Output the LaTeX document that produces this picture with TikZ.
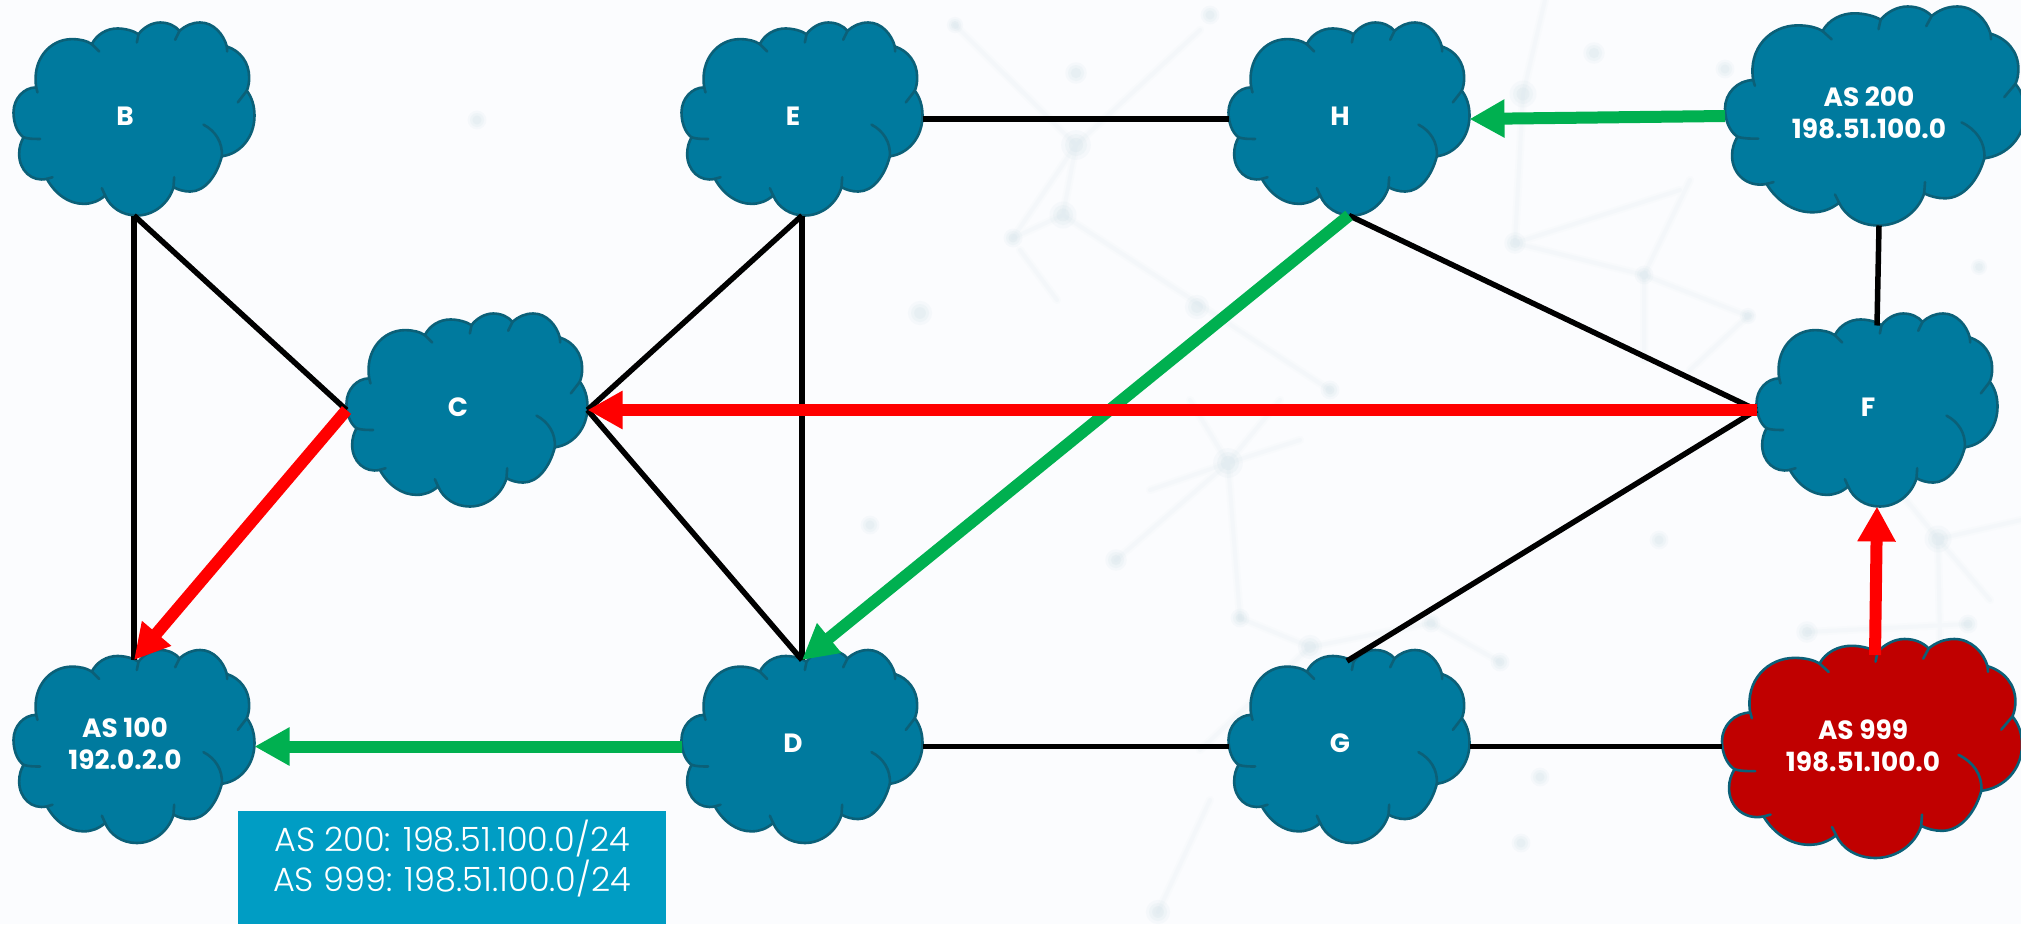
\documentclass[tikz,border=0pt]{standalone}
\usepackage{fontspec}
\setmainfont{Poppins}
\newfontfamily\lightfont{Poppins Light}
\usetikzlibrary{arrows.meta}
\definecolor{bgc}{HTML}{FBFCFE}
\definecolor{netc}{HTML}{C9DCE4}
\definecolor{cloudblue}{HTML}{007A9E}
\definecolor{cloudedge}{HTML}{0B6078}
\definecolor{cloudred}{HTML}{C00000}
\definecolor{boxblue}{HTML}{009DC4}
\definecolor{arrgreen}{HTML}{00B050}
\definecolor{arrred}{HTML}{FF0000}
\tikzset{
  x=1pt,y=-1pt,
  cloudedgeline/.style={draw=cloudedge,line width=2.6pt,line join=round},
  cloudlabel/.style={text=white,font=\bfseries\fontsize{26.4}{32}\selectfont,align=center,inner sep=0pt},
  link/.style={draw=black,line width=5.5pt},
  greenarrow/.style={draw=arrgreen,line width=12pt,-{Triangle[length=35pt,width=36pt]}},
  redarrow/.style={draw=arrred,line width=12pt,-{Triangle[length=35pt,width=36pt]}},
}
\newcommand{\labelnudge}{0pt}
\newcommand{\netlines}[1]{%
  \draw[netc,line width=8pt,opacity=.05,line cap=round] #1;
  \draw[netc,line width=4pt,opacity=.08,line cap=round] #1;
}
\newcommand{\netdot}[3]{%
  \fill[netc,opacity=.10] (#1,#2) circle (#3*1.35);
  \fill[netc,opacity=.14] (#1,#2) circle (#3*1.0);
  \fill[netc,opacity=.18] (#1,#2) circle (#3*0.65);
}
\newcommand{\cloudat}[7]{%
  \begin{scope}[shift={(#2,#3)},xscale=#4/723,yscale=#5/580]
  \begin{scope}[shift={(-401.5,-360)}]
  \path[fill=#6,cloudedgeline] (108,265)
    .. controls (95,180) and (150,120) .. (215,120) .. controls (240,120) and (260,125) .. (275,135)
    .. controls (290,105) and (320,88) .. (352,88) .. controls (375,88) and (400,95) .. (415,105)
    .. controls (430,85) and (455,70) .. (480,70) .. controls (505,70) and (525,80) .. (538,95)
    .. controls (555,80) and (575,70) .. (600,70) .. controls (640,70) and (670,105) .. (680,142)
    .. controls (720,155) and (747,190) .. (747,235) .. controls (747,250) and (745,262) .. (740,275)
    .. controls (755,295) and (763,320) .. (763,350) .. controls (763,415) and (720,465) .. (665,472)
    .. controls (650,530) and (615,578) .. (570,578) .. controls (552,578) and (535,573) .. (520,565)
    .. controls (505,615) and (460,650) .. (410,650) .. controls (365,650) and (330,625) .. (315,590)
    .. controls (295,607) and (275,615) .. (250,615) .. controls (205,615) and (165,585) .. (140,540)
    .. controls (95,550) and (57,515) .. (57,465) .. controls (57,445) and (62,430) .. (70,415)
    .. controls (50,400) and (40,370) .. (40,340) .. controls (40,300) and (70,265) .. (108,265)
    -- cycle;
  \draw[cloudedgeline,line cap=round] (275,135) -- (297,157) (415,105) -- (410,130) (538,95) -- (525,122)
    (680,142) -- (681,157) (740,275) -- (713,310)
    (610,377) .. controls (645,395) and (668,430) .. (665,472)
    (520,565) -- (522,535) (315,590) -- (305,568) (140,540) -- (157,535)
    (70,415) .. controls (85,420) and (100,420) .. (120,420) (108,265) -- (112,280);
  \end{scope}
  \end{scope}
  \node[rectangle,inner sep=0pt,outer sep=0pt,minimum width=#4pt,minimum height=#5pt] (#1) at (#2,#3) {};
  \node[cloudlabel] (#1label) at ([xshift=-9pt+\labelnudge,yshift=3pt]#1.center) {#7};
}
\begin{document}
\begin{tikzpicture}
\useasboundingbox (0,0) rectangle (2021,924);
\clip (0,0) rectangle (2021,924);
\fill[bgc] (0,0) rectangle (2021,924);
% faint network texture of the backdrop
\netlines{(955,25) -- (1076,145) -- (1013,238) (1076,145) -- (1200,30) (1076,145) -- (1063,215) -- (1013,238) (1020,250) -- (1057,300) (1063,215) -- (1330,390)}
\netlines{(1228,463) -- (1116,560) (1228,463) -- (1240,618) (1228,463) -- (1150,490) (1228,463) -- (1300,440) (1228,463) -- (1190,400) (1228,463) -- (1280,400)}
\netlines{(1240,618) -- (1310,647) -- (1431,623) -- (1500,662) (1310,647) -- (1200,750) (1158,912) -- (1210,800)}
\netlines{(1545,0) -- (1523,94) -- (1515,243) -- (1644,275) -- (1748,316) -- (1690,370) (1644,275) -- (1644,360) (1515,243) -- (1680,190) (1644,275) -- (1690,180)}
\netlines{(1890,480) -- (1938,539) -- (1940,640) (1938,539) -- (1990,600) (1938,539) -- (2021,520) (1807,632) -- (1968,624)}
\foreach \px/\py/\pr in {955/25/6,1210/15/7,1076/73/8,1076/145/11,1063/215/10,1013/238/7,920/313/9,1197/307/9,1330/390/7,1228/463/11,1116/560/8,1240/618/7,1310/647/9,1431/623/7,1500/662/7,1540/777/7,1521/843/7,1158/912/9,1659/540/7,1523/94/10,1594/53/8,1725/69/7,1515/243/8,1644/275/7,1748/316/6,1938/539/10,1979/267/6,1807/632/8,1968/624/7,477/120/7,870/525/7}
  {\netdot{\px}{\py}{\pr}}
% clouds
\cloudat{B}{134}{119}{241}{193}{cloudblue}{B}
\cloudat{E}{802}{119}{241}{193}{cloudblue}{E}
\cloudat{H}{1349}{119}{241}{193}{cloudblue}{H}
\cloudat{C}{467}{410}{241}{193}{cloudblue}{C}
\cloudat{F}{1877}{410}{241}{193}{cloudblue}{F}
\cloudat{AS100}{134}{746.5}{241}{193}{cloudblue}{AS 100\\192.0.2.0}
\cloudat{D}{802}{746.5}{241}{193}{cloudblue}{D}
\cloudat{G}{1349}{746.5}{241}{193}{cloudblue}{G}
\renewcommand{\labelnudge}{3pt}
\cloudat{AS200}{1875}{116}{300}{219}{cloudblue}{AS 200\\198.51.100.0}
\renewcommand{\labelnudge}{0pt}
\cloudat{AS999}{1872}{748.5}{300}{219}{cloudred}{AS 999\\198.51.100.0}
\coordinate (Dtop) at ([yshift=-10pt]D.north);
\coordinate (Atop) at ([yshift=-10pt]AS100.north);
\coordinate (Gtop) at ([yshift=-11pt,xshift=-2pt]G.north);
\coordinate (Ftop) at ([yshift=-12pt]F.north);
\coordinate (Sbottom) at ([xshift=4pt]AS200.south);
\coordinate (Rstart) at ([yshift=-16pt,xshift=3pt]AS999.north);
% plain links
\draw[link] (B.south) -- (Atop);
\draw[link] (B.south) -- (C.west);
\draw[link] (E.south) -- (C.east);
\draw[link] (E.south) -- (Dtop);
\draw[link] (C.east) -- (Dtop);
\draw[link] (E.east) -- (H.west);
\draw[link] (H.south) -- (F.west);
\draw[link] (F.west) -- (Gtop);
\draw[link] (Sbottom) -- (Ftop);
\draw[link] (D.east) -- (G.west);
\draw[link] (G.east) -- (G.east -| AS999.west);
% routes
\draw[greenarrow] (AS200.west) -- (H.east);
\draw[greenarrow] (H.south) -- (Dtop);
\draw[greenarrow] (D.west) -- (AS100.east);
\draw[redarrow] (F.west) -- (C.east);
\draw[redarrow] (C.west) -- (Atop);
\draw[redarrow] (Rstart) -- (F.south);
% legend
\node[fill=boxblue,rectangle,inner sep=0pt,outer sep=0pt,minimum width=428pt,minimum height=113pt] (legend) at (452,867.5) {};
\node[text=white,font=\lightfont\fontsize{33.5}{40}\selectfont,align=center,inner sep=0pt] (legendtext) at (452,859) {AS 200: 198.51.100.0/24\\AS 999: 198.51.100.0/24};
\end{tikzpicture}
\end{document}
